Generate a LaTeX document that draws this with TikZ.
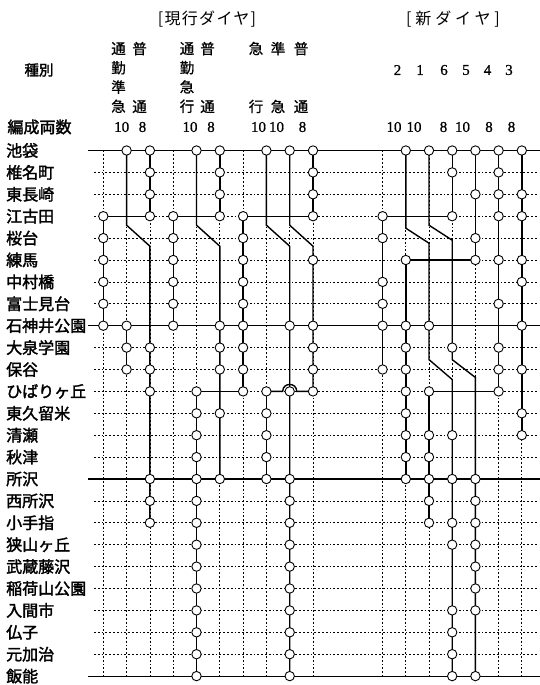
\documentclass[tikz,border=0pt]{standalone}
\usepackage{fontspec}
\setmainfont{Liberation Serif}
\newfontfamily\jp{Noto Sans CJK JP}[FakeBold=0.8]
\newfontfamily\jpb{Noto Sans CJK JP}[FakeBold=2]
\newfontfamily\jpls{Noto Sans CJK JP}[LetterSpace=8]
\newfontfamily\jplw{Noto Sans CJK JP}[LetterSpace=24]
\newfontfamily\digits{Liberation Serif}[FakeBold=0.8]
\usetikzlibrary{calc}
\begin{document}
\begin{tikzpicture}[x=1pt,y=-1pt,
  gridline/.style={line width=0.75pt, dash pattern=on 1.8pt off 2pt},
  mainrow/.style={line width=1.1pt},
  train/.style={line width=1.4pt},
  link/.style={line width=1.4pt},
  stop/.style={circle, draw, line width=0.9pt, fill=white, minimum size=9.4pt, inner sep=0pt},
  stn/.style={anchor=west, font=\jpb\fontsize{16}{16}\selectfont, inner sep=0pt},
  colhdr/.style={font=\jp\fontsize{14.5}{19.3}\selectfont, align=center, inner sep=0pt},
  num/.style={font=\digits\fontsize{15}{15}\selectfont, inner sep=0pt},
]
\useasboundingbox (0,0) rectangle (540,685);
% grid coordinates
\foreach \k in {0,...,16} {
  \pgfmathsetmacro\cx{\k<10 ? 103.3+23.3*\k : 382.6+23.2*(\k-10)}
  \foreach \i in {0,...,24} {
    \pgfmathsetmacro\ry{150.5+21.9*\i}
    \coordinate (g-\k-\i) at (\cx,\ry);
  }
}
% dashed grid rows
\foreach \i in {1,...,7,9,10,...,14,16,17,...,23} {
  \pgfmathsetmacro\ry{150.5+21.9*\i}
  \draw[gridline] (94,\ry) -- (537,\ry);
}
% dashed grid columns
\foreach \k in {0,...,16} { \draw[gridline] (g-\k-0) -- (g-\k-24); }
% main solid rows
\foreach \i in {0,8,15,24} {
  \pgfmathsetmacro\ry{150.5+21.9*\i}
  \draw[mainrow] (88,\ry) -- (540,\ry);
}
% ---------- current timetable ----------
\draw[train] (g-1-0) -- ($(g-1-3)+(0,9)$) -- ($(g-2-3)+(0,30)$) -- (g-2-17);
\draw[train] (g-2-0) -- (g-2-3);
\draw[train] (g-0-3) -- (g-0-8);
\draw[link] (g-0-3) -- (g-2-3);
\draw[train] (g-1-8) -- (g-1-10);
\draw[train] (g-4-0) -- ($(g-4-3)+(0,9)$) -- ($(g-5-3)+(0,30)$) -- (g-5-15);
\draw[train] (g-5-0) -- (g-5-3);
\draw[train] (g-3-3) -- (g-3-8);
\draw[link] (g-3-3) -- (g-5-3);
\draw[train] (g-4-11) -- (g-4-24);
\draw[link] (g-4-11) -- (g-6-11);
\draw[train] (g-6-3) -- (g-6-11);
\draw[link] (g-6-3) -- (g-9-3);
\draw[train] (g-7-0) -- ($(g-7-3)+(0,9)$) -- ($(g-8-3)+(0,30)$) -- (g-8-24);
\draw[train] (g-8-0) -- ($(g-8-3)+(0,9)$) -- ($(g-9-3)+(0,30)$) -- (g-9-11);
\draw[train] (g-9-0) -- (g-9-3);
\draw[train] (g-7-11) -- (g-7-15);
\draw[link] (g-7-11) -- ($(g-8-11)+(-7,0)$) .. controls +(0,-9.3) and +(0,-9.3) .. ($(g-8-11)+(7,0)$) -- (g-9-11);
% ---------- new timetable ----------
\draw[train] (g-11-0) -- ($(g-11-3)+(0,12)$) -- ($(g-12-3)+(0,27)$) -- ($(g-12-9)+(0,12)$) -- ($(g-13-10)+(0,10)$) -- (g-13-24);
\draw[train] (g-12-0) -- ($(g-12-3)+(0,9)$) -- ($(g-13-3)+(0,24)$) -- ($(g-13-9)+(0,12)$) -- ($(g-14-10)+(0,8)$) -- (g-14-24);
\draw[train] (g-13-0) -- (g-13-3);
\draw[link] (g-10-3) -- (g-13-3);
\draw[train] (g-10-3) -- (g-10-10);
\draw[train] (g-14-0) -- (g-14-5);
\draw[link] (g-11-5) -- (g-14-5);
\draw[train] (g-11-5) -- (g-11-15);
\draw[train] (g-15-0) -- (g-15-11);
\draw[link] (g-12-11) -- (g-15-11);
\draw[train] (g-12-11) -- (g-12-17);
\draw[train] (g-16-0) -- (g-16-13);
% ---------- stops ----------
\foreach \k/\list in {
  0/{3,4,5,6,7,8},
  1/{0,8,9,10},
  2/{0,1,2,3,9,10,11,15,16,17},
  3/{3,4,5,6,7,8},
  4/{0,11,12,13,14,15,16,17,18,19,20,21,22,23,24},
  5/{0,1,2,3,8,9,10,12,15},
  6/{3,4,5,6,7,8,9,10,11},
  7/{0,11,12,13,14,15},
  8/{0,8,11,15,16,17,18,19,20,21,22,23,24},
  9/{0,1,2,3,5,8,9,10,11},
  10/{3,4,6,7,8,10},
  11/{0,5,8,9,10,11,12,13,14,15},
  12/{0,8,11,13,14,15,16,17},
  13/{0,1,3,9,13,15,17,18,21,22,23,24},
  14/{0,2,4,5,15,16,17,18,19,20,21,24},
  15/{0,1,2,3,5,7,9,10,11},
  16/{0,2,3,5,6,8,10,12,13}} {
  \foreach \i in \list { \node[stop] (s-\k-\i) at (g-\k-\i) {}; }
}
% ---------- station names ----------
\foreach \n [count=\c from 0] in {池袋,椎名町,東長崎,江古田,桜台,練馬,中村橋,富士見台,石神井公園,大泉学園,保谷,ひばりヶ丘,東久留米,清瀬,秋津,所沢,西所沢,小手指,狭山ヶ丘,武蔵藤沢,稲荷山公園,入間市,仏子,元加治,飯能} {
  \pgfmathsetmacro\ry{150.5+21.9*\c}
  \node[stn] (st-\c) at (6,\ry) {\n};
}
% ---------- headers ----------
\node[font=\jpls\fontsize{16}{16}\selectfont, inner sep=0pt] (h-cur) at (207,19) {[現行ダイヤ]};
\node[font=\jplw\fontsize{16}{16}\selectfont, inner sep=0pt] (h-new) at (453,19) {[新ダイヤ]};
\node[font=\jpb\fontsize{14.5}{14.5}\selectfont, inner sep=0pt] (h-kind) at (39,70) {種別};
\node[font=\jpb\fontsize{16}{16}\selectfont, inner sep=0pt] (h-cars) at (39.5,127) {編成両数};
\node[colhdr] (k1a) at (118.5,77.5) {通\\勤\\準\\急};
\node[colhdr] (k1b) at (139.5,77.5) {普\\[38.6pt]通};
\node[colhdr] (k2a) at (187,77.5) {通\\勤\\急\\行};
\node[colhdr] (k2b) at (207.5,77.5) {普\\[38.6pt]通};
\node[colhdr] (k3a) at (256,77.5) {急\\[38.6pt]行};
\node[colhdr] (k3b) at (278,77.5) {準\\[38.6pt]急};
\node[colhdr] (k3c) at (301,77.5) {普\\[38.6pt]通};
\foreach \t/\x [count=\c] in {2/397.5,1/420,6/444,5/466,4/487.5,3/509} {
  \node[num] (nn-\c) at (\x,70) {\t};
}
\foreach \t/\x [count=\c] in {10/121.7,8/142.5,10/190,8/211,10/258.5,10/276.5,8/302.5,10/394,10/414,8/443.5,10/462.5,8/489,8/511.5} {
  \node[num] (cars-\c) at (\x,127) {\t};
}
\end{tikzpicture}
\end{document}
